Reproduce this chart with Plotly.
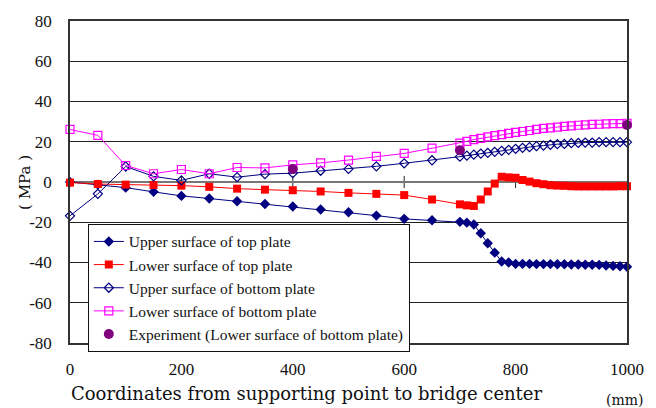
import plotly.graph_objects as go

# Positions along the span (mm): every 50 mm up to 700, then every 12.5 mm to the center
x_coarse = [0, 50, 100, 150, 200, 250, 300, 350, 400, 450, 500, 550, 600, 650, 700]
x_fine = [712.5, 725, 737.5, 750, 762.5, 775, 787.5, 800, 812.5, 825, 837.5, 850,
          862.5, 875, 887.5, 900, 912.5, 925, 937.5, 950, 962.5, 975, 987.5, 1000]
x_pos = x_coarse + x_fine

upper_top = [0.0, -1.3, -2.8, -4.9, -6.9, -8.2, -9.6, -10.9, -12.2, -13.7, -15.0, -16.7, -18.3, -19.0, -19.8,
             -20.2, -21.1, -25.5, -30.4, -35.1, -39.5, -40.0, -40.7, -40.7, -40.7, -40.8, -40.8, -40.8,
             -40.9, -40.9, -41.0, -41.0, -41.1, -41.1, -41.2, -41.5, -41.7, -41.9, -42.1]
lower_top = [-0.3, -1.0, -1.3, -1.5, -1.8, -2.4, -3.3, -3.8, -4.1, -4.7, -5.4, -5.9, -6.5, -8.7, -11.1,
             -11.6, -11.9, -8.7, -4.7, -0.8, 2.6, 2.3, 2.1, 1.0, 0.2, -0.6, -1.1, -1.6,
             -1.8, -1.9, -2.1, -2.2, -2.2, -2.2, -2.2, -2.2, -2.2, -2.1, -2.1]
upper_bottom = [-16.8, -5.9, 7.7, 2.8, 0.8, 4.1, 2.4, 3.9, 4.4, 5.6, 6.5, 7.8, 9.3, 10.8, 12.6,
                13.1, 13.6, 14.1, 14.5, 15.0, 15.5, 16.0, 16.5, 17.0, 17.3, 17.8, 18.1, 18.5,
                18.8, 18.9, 19.3, 19.4, 19.6, 19.6, 19.8, 19.8, 19.8, 19.8, 19.8]
lower_bottom = [26.1, 23.2, 8.2, 4.1, 6.2, 4.1, 7.2, 7.0, 8.5, 9.5, 10.9, 12.7, 14.2, 16.8, 19.3,
                20.2, 21.1, 21.7, 22.4, 23.0, 23.5, 24.2, 24.7, 25.1, 25.6, 26.1, 26.6, 26.9,
                27.3, 27.6, 27.9, 28.2, 28.4, 28.6, 28.7, 28.9, 29.0, 29.0, 29.2]

exp_x = [400, 700, 1000]
exp_y = [6.5, 15.8, 28.3]

y_ticks = [-80, -60, -40, -20, 0, 20, 40, 60, 80]
y_tick_text = ["-80", "-60", "-40", "-20", "0", "20", "40", "60", "80"]
x_ticks = [0, 200, 400, 600, 800, 1000]

SERIF = "Liberation Serif"
WIDE_SERIF = "DejaVu Serif"
INK = "#111"

fig = go.Figure()
fig.add_trace(go.Scatter(
    x=x_pos, y=upper_top, mode="lines+markers", name="Upper surface of top plate",
    line=dict(color="#000080", width=1), cliponaxis=False,
    marker=dict(symbol="diamond", size=8, color="#000080")))
fig.add_trace(go.Scatter(
    x=x_pos, y=lower_top, mode="lines+markers", name="Lower surface of top plate",
    line=dict(color="#FF0000", width=1), cliponaxis=False,
    marker=dict(symbol="square", size=8, color="#FF0000")))
fig.add_trace(go.Scatter(
    x=x_pos, y=upper_bottom, mode="lines+markers", name="Upper surface of bottom plate",
    line=dict(color="#000080", width=1), cliponaxis=False,
    marker=dict(symbol="diamond-open", size=7, color="#000080", line=dict(width=1.2))))
fig.add_trace(go.Scatter(
    x=x_pos, y=lower_bottom, mode="lines+markers", name="Lower surface of bottom plate",
    line=dict(color="#FF00FF", width=1), cliponaxis=False,
    marker=dict(symbol="square-open", size=8, color="#FF00FF", line=dict(width=1.2))))
fig.add_trace(go.Scatter(
    x=exp_x, y=exp_y, mode="markers", name="Experiment (Lower surface of bottom plate)",
    cliponaxis=False,
    marker=dict(symbol="circle", size=10, color="#800080")))

# Cross tick marks on the zero line (category axis crossing at 0)
for xv in x_ticks[1:-1]:
    fig.add_shape(type="line", x0=xv, x1=xv, y0=-3, y1=3, xref="x", yref="y",
                  line=dict(color="#222", width=1), layer="below")

fig.update_layout(
    width=656, height=408,
    margin=dict(l=70, r=28, t=17, b=65),
    paper_bgcolor="white", plot_bgcolor="white",
    font=dict(family=SERIF, size=16, color=INK),
    showlegend=True,
    legend=dict(
        x=0.032, y=0.37, xanchor="left", yanchor="top",
        bgcolor="white", bordercolor=INK, borderwidth=1,
        font=dict(family=SERIF, size=15.5, color=INK),
        tracegroupgap=0, itemwidth=30,
    ),
    xaxis=dict(
        range=[0, 1000], tickvals=x_ticks, ticks="outside", ticklen=10,
        tickcolor="rgba(0,0,0,0)", showgrid=False, zeroline=False,
        showline=True, mirror=True, linecolor="#333", linewidth=1.5,
        tickfont=dict(family=SERIF, size=17, color=INK),
    ),
    yaxis=dict(
        range=[-80, 80], tickvals=y_ticks, ticktext=y_tick_text,
        ticks="outside", ticklen=13, tickcolor="rgba(0,0,0,0)",
        showgrid=True, gridcolor="#222", gridwidth=1,
        zeroline=True, zerolinecolor="#777", zerolinewidth=2,
        showline=True, mirror=True, linecolor="#333", linewidth=1.5,
        tickfont=dict(family=SERIF, size=17, color=INK),
    ),
    annotations=[
        dict(text="Coordinates from supporting point to bridge center",
             xref="paper", yref="paper", x=0.425, y=-0.117, xanchor="center", yanchor="top",
             showarrow=False, font=dict(family=WIDE_SERIF, size=18, color=INK)),
        dict(text="(mm)", xref="paper", yref="paper", x=0.996, y=-0.147,
             xanchor="center", yanchor="top",
             showarrow=False, font=dict(family=WIDE_SERIF, size=14, color=INK)),
        dict(text="( MPa )", xref="paper", yref="paper", x=-0.081, y=0.5,
             xanchor="center", yanchor="middle", textangle=-90,
             showarrow=False, font=dict(family=WIDE_SERIF, size=15, color=INK)),
    ],
)

fig.write_html("out.html")
